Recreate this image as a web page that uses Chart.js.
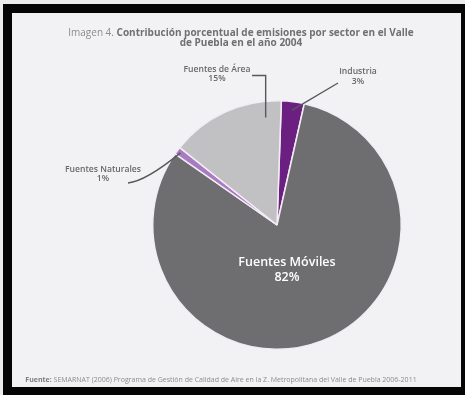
<!DOCTYPE html>
<html lang="es">
<head>
<meta charset="utf-8">
<title>Emisiones por sector - Valle de Puebla 2004</title>
<script src="https://cdn.jsdelivr.net/npm/chart.js@4.4.1/dist/chart.umd.min.js"></script>
<style>
  html, body { margin: 0; padding: 0; }
  body { width: 465px; height: 395px; background: #ececec; position: relative; overflow: hidden; }
  .frame { position: absolute; left: 3px; top: 4px; width: 462px; height: 391px; background: #050505; }
  .panel { position: absolute; left: 12px; top: 13px; width: 449px; height: 374px; background: #f2f2f4; }
  #pieWrap { position: absolute; left: 0; top: 0; width: 465px; height: 395px; }
</style>
</head>
<body>
<div class="frame"></div>
<div class="panel"></div>
<div id="pieWrap"><canvas id="emisionesChart"></canvas></div>
<script>
// Sectores en orden horario, empezando arriba
const sectores = ["Industria", "Fuentes Móviles", "Fuentes Naturales", "Fuentes de Área"];
const porcentajes = [3, 82, 1, 15];
const colores = ["#6b1f80", "#6e6e71", "#a87cc1", "#c1c1c4"];

const tituloInicio = "Imagen 4. ";
const tituloLinea1 = "Contribución porcentual de emisiones por sector en el Valle";
const tituloLinea2 = "de Puebla en el año 2004";
const fuenteEtiqueta = "Fuente: ";
const fuenteTexto = "SEMARNAT (2006) Programa de Gestión de Calidad de Aire en la Z. Metropolitana del Valle de Puebla 2006-2011";

const FONT = '"Open Sans", "Noto Sans", sans-serif';

// Draws text runs with different weights/colours centred on x
function drawRuns(ctx, runs, cx, y) {
  let total = 0;
  runs.forEach(r => { ctx.font = r.font; total += ctx.measureText(r.text).width; });
  let x = cx - total / 2;
  ctx.textAlign = "left";
  runs.forEach(r => {
    ctx.font = r.font;
    ctx.fillStyle = r.color;
    ctx.fillText(r.text, x, y);
    x += ctx.measureText(r.text).width;
  });
}

// Point inside a slice: frac along the angle, rFrac of the radius
function puntoEnArco(arc, frac, rFrac) {
  const p = arc.getProps(["x", "y", "startAngle", "endAngle", "outerRadius"], true);
  const a = p.startAngle + (p.endAngle - p.startAngle) * frac;
  return { x: p.x + Math.cos(a) * p.outerRadius * rFrac, y: p.y + Math.sin(a) * p.outerRadius * rFrac };
}

const etiquetasPlugin = {
  id: "etiquetasSectores",
  afterDatasetsDraw(chart) {
    const ctx = chart.ctx;
    const arcs = chart.getDatasetMeta(0).data;
    const centro = arcs[0].getProps(["x", "y"], true);
    ctx.save();
    ctx.textBaseline = "middle";

    // Title
    drawRuns(ctx, [
      { text: tituloInicio, font: "10px " + FONT, color: "#8c8c8e" },
      { text: tituloLinea1, font: "bold 10px " + FONT, color: "#707073" }
    ], 241, 33);
    drawRuns(ctx, [{ text: tituloLinea2, font: "bold 10px " + FONT, color: "#707073" }], 241, 43);

    // Leader lines
    ctx.strokeStyle = "#58585b";
    ctx.lineWidth = 1.4;

    const pArea = puntoEnArco(arcs[3], 0.85, 0.87);
    ctx.beginPath();
    ctx.moveTo(252, 75.5);
    ctx.lineTo(pArea.x, 75.5);
    ctx.lineTo(pArea.x, pArea.y);
    ctx.stroke();

    const pInd = puntoEnArco(arcs[0], 0.5, 0.93);
    ctx.beginPath();
    ctx.moveTo(338, 83);
    ctx.lineTo(pInd.x, pInd.y);
    ctx.stroke();

    const pNat = puntoEnArco(arcs[2], 0.5, 0.97);
    ctx.beginPath();
    ctx.moveTo(128, 183);
    ctx.quadraticCurveTo(146, 181, pNat.x, pNat.y);
    ctx.stroke();

    // Outside labels
    ctx.textAlign = "center";
    ctx.fillStyle = "#68686b";
    ctx.font = "600 8.6px " + FONT;
    ctx.fillText(sectores[3], 217, 70);
    ctx.fillText(porcentajes[3] + "%", 217, 79);
    ctx.fillText(sectores[0], 358, 72);
    ctx.fillText(porcentajes[0] + "%", 358, 82);
    ctx.fillText(sectores[2], 103, 170);
    ctx.fillText(porcentajes[2] + "%", 103, 179);

    // Label inside the big slice
    ctx.fillStyle = "#ffffff";
    ctx.font = "600 12.5px " + FONT;
    ctx.fillText(sectores[1], centro.x + 10, centro.y + 37);
    ctx.fillText(porcentajes[1] + "%", centro.x + 10, centro.y + 52);

    // Source line
    drawRuns(ctx, [
      { text: fuenteEtiqueta, font: "bold 7px " + FONT, color: "#7d7d80" },
      { text: fuenteTexto, font: "7px " + FONT, color: "#8c8c8f" }
    ], 221, 380);

    ctx.restore();
  }
};

const ctx = document.getElementById("emisionesChart").getContext("2d");
new Chart(ctx, {
  type: "pie",
  data: {
    labels: sectores,
    datasets: [{
      data: porcentajes,
      backgroundColor: colores,
      borderColor: "#f3ecf6",
      borderWidth: 1.5
    }]
  },
  options: {
    responsive: true,
    maintainAspectRatio: false,
    animation: false,
    rotation: 2,
    layout: { padding: { left: 152, top: 100, right: 63, bottom: 45 } },
    plugins: {
      legend: { display: false },
      title: { display: false },
      tooltip: { enabled: false }
    }
  },
  plugins: [etiquetasPlugin]
});
</script>
</body>
</html>
